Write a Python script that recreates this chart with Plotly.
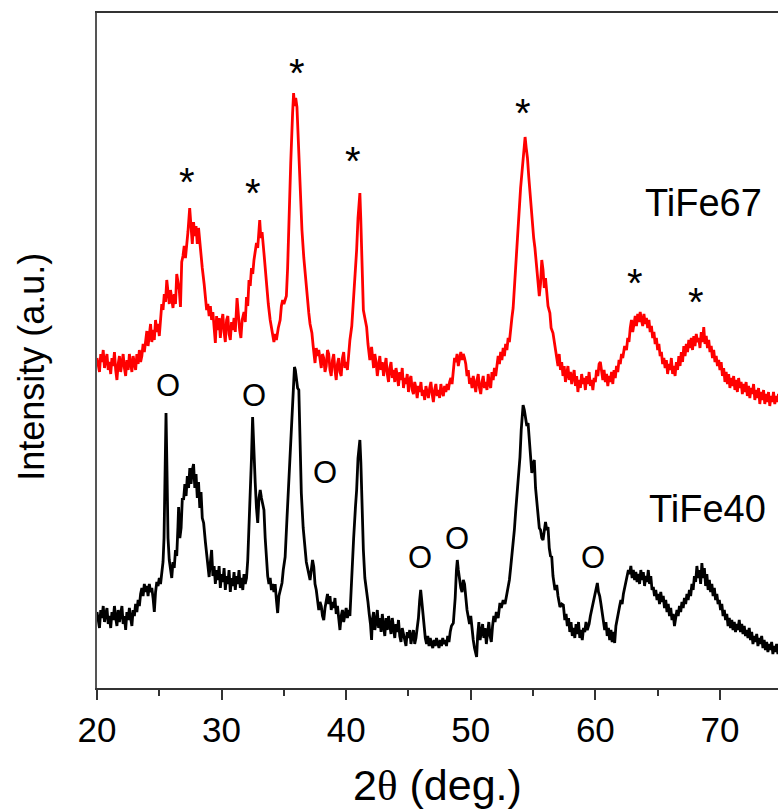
import plotly.graph_objects as go

# ---- TiFe67 (red): (2theta, intensity a.u.) ----
tife67 = [
 (20.0,330),(20.1,322),(20.2,316),(20.3,334),(20.4,326),(20.5,338),(20.6,320),(20.7,328),(20.8,334),(20.9,318),
 (21.0,326),(21.1,314),(21.2,330),(21.3,322),(21.4,336),(21.5,318),(21.6,308),(21.7,324),(21.8,332),(21.9,316),
 (22.0,326),(22.1,334),(22.2,320),(22.3,312),(22.4,328),(22.5,318),(22.6,334),(22.7,322),(22.8,316),(22.9,332),
 (23.0,326),(23.1,318),(23.2,334),(23.3,324),(23.4,338),(23.5,326),(23.6,332),(23.7,344),(23.8,336),(23.9,350),
 (24.0,357),(24.1,342),(24.2,352),(24.3,364),(24.4,346),(24.5,358),(24.6,348),(24.7,368),(24.8,356),(24.9,364),
 (25.0,352),(25.1,372),(25.2,384),(25.3,378),(25.4,394),(25.5,386),(25.6,408),(25.7,396),(25.8,384),(25.9,398),
 (26.0,390),(26.1,380),(26.2,394),(26.3,384),(26.4,414),(26.5,404),(26.6,398),(26.7,381),(26.8,426),(26.9,432),
 (27.0,442),(27.1,430),(27.2,448),(27.3,456),(27.44,480),(27.55,458),(27.65,444),(27.75,466),(27.85,452),(27.95,462),
 (28.05,444),(28.15,460),(28.3,438),(28.45,420),(28.6,404),(28.7,392),(28.8,378),(28.9,384),(29.0,372),(29.1,382),
 (29.2,368),(29.3,376),(29.4,362),(29.5,345),(29.6,372),(29.7,358),(29.8,370),(29.9,350),(30.0,366),(30.1,374),
 (30.2,356),(30.3,346),(30.4,368),(30.5,372),(30.6,354),(30.7,348),(30.8,366),(30.9,358),(31.0,370),(31.1,356),
 (31.24,390),(31.35,372),(31.45,358),(31.55,350),(31.65,368),(31.8,376),(31.9,366),(32.0,391),(32.1,382),(32.2,408),
 (32.3,402),(32.4,420),(32.5,414),(32.6,428),(32.7,436),(32.8,445),(32.9,440),(33.06,468),(33.15,450),(33.25,456),
 (33.4,435),(33.5,420),(33.6,401),(33.75,384),(33.9,368),(34.0,360),(34.1,352),(34.2,346),(34.3,354),(34.4,348),
 (34.55,360),(34.7,368),(34.8,382),(34.9,388),(35.0,384),(35.2,392),(35.3,420),(35.4,475),(35.55,525),(35.7,575),
 (35.78,595),(35.85,582),(35.95,590),(36.05,581),(36.15,548),(36.2,531),(36.3,492),(36.45,458),(36.6,430),(36.7,415),
 (36.85,392),(37.0,375),(37.1,364),(37.25,355),(37.35,342),(37.5,325),(37.6,340),(37.7,332),(37.8,338),(37.9,326),
 (38.0,320),(38.1,334),(38.2,330),(38.3,316),(38.4,322),(38.5,338),(38.6,334),(38.7,318),(38.8,312),(38.9,328),
 (39.0,334),(39.1,318),(39.2,308),(39.3,324),(39.4,330),(39.5,316),(39.6,312),(39.7,330),(39.8,336),(39.9,320),
 (40.0,326),(40.1,318),(40.2,336),(40.3,348),(40.45,362),(40.57,385),(40.7,410),(40.84,438),(40.95,470),(41.05,490),
 (41.1,495),(41.17,470),(41.24,435),(41.38,378),(41.5,370),(41.64,361),(41.75,344),(41.9,328),(42.04,341),(42.1,330),
 (42.2,320),(42.3,334),(42.4,326),(42.5,312),(42.6,324),(42.7,332),(42.8,318),(42.9,326),(43.0,312),(43.1,322),
 (43.2,330),(43.3,314),(43.4,306),(43.5,320),(43.6,326),(43.7,310),(43.8,318),(43.9,306),(44.0,320),(44.1,312),
 (44.2,302),(44.3,316),(44.4,308),(44.5,320),(44.6,300),(44.7,310),(44.8,304),(44.9,314),(45.0,296),(45.1,308),
 (45.2,312),(45.3,298),(45.4,294),(45.5,306),(45.6,300),(45.7,290),(45.8,302),(45.9,296),(46.0,306),(46.1,292),
 (46.2,298),(46.3,288),(46.4,302),(46.5,296),(46.6,290),(46.7,300),(46.8,306),(46.9,294),(47.0,286),(47.1,298),
 (47.2,304),(47.3,292),(47.4,298),(47.5,290),(47.6,304),(47.7,296),(47.8,292),(47.9,302),(48.0,296),(48.1,304),
 (48.2,298),(48.3,306),(48.4,310),(48.5,304),(48.6,318),(48.7,330),(48.8,326),(48.9,334),(49.0,322),(49.1,330),
 (49.2,336),(49.3,328),(49.4,334),(49.5,330),(49.6,324),(49.7,312),(49.8,318),(49.9,304),(50.0,310),(50.1,300),
 (50.2,312),(50.3,304),(50.4,296),(50.5,308),(50.6,314),(50.7,300),(50.8,294),(50.9,306),(51.0,312),(51.1,300),
 (51.2,306),(51.3,298),(51.4,314),(51.5,304),(51.6,300),(51.7,316),(51.8,308),(51.9,320),(52.0,312),(52.1,322),
 (52.2,332),(52.3,324),(52.4,336),(52.5,328),(52.6,340),(52.7,332),(52.8,344),(52.9,338),(53.0,350),(53.1,346),
 (53.2,362),(53.3,370),(53.4,380),(53.5,398),(53.6,420),(53.7,440),(53.8,462),(53.9,480),(54.0,500),(54.1,516),
 (54.2,530),(54.3,545),(54.36,551),(54.45,540),(54.55,530),(54.65,512),(54.75,495),(54.85,480),(54.95,466),(55.05,450),
 (55.15,440),(55.3,421),(55.4,410),(55.5,392),(55.6,404),(55.7,428),(55.8,418),(55.9,400),(56.0,410),(56.1,396),
 (56.2,382),(56.35,375),(56.45,360),(56.6,355),(56.7,346),(56.8,340),(56.9,330),(57.0,322),(57.1,334),(57.2,318),
 (57.3,326),(57.4,312),(57.5,322),(57.6,306),(57.7,314),(57.8,322),(57.9,308),(58.0,316),(58.1,304),(58.2,312),
 (58.3,318),(58.4,302),(58.5,312),(58.6,296),(58.7,308),(58.8,300),(58.9,314),(59.0,304),(59.1,310),(59.2,298),
 (59.3,312),(59.4,304),(59.5,316),(59.6,302),(59.7,308),(59.8,298),(59.9,310),(60.0,306),(60.1,318),(60.2,312),
 (60.3,324),(60.4,326),(60.5,314),(60.6,308),(60.7,318),(60.8,306),(60.9,314),(61.0,302),(61.1,312),(61.2,306),
 (61.3,316),(61.4,304),(61.5,318),(61.6,310),(61.7,322),(61.8,316),(61.9,328),(62.0,324),(62.1,334),(62.2,330),
 (62.35,342),(62.5,338),(62.6,350),(62.7,346),(62.8,360),(62.9,368),(63.0,356),(63.1,366),(63.2,372),(63.3,362),
 (63.4,374),(63.5,366),(63.6,376),(63.7,368),(63.8,362),(63.9,374),(64.0,364),(64.1,370),(64.2,360),(64.3,368),
 (64.4,356),(64.5,362),(64.6,350),(64.7,356),(64.8,344),(64.9,350),(65.0,338),(65.1,344),(65.2,332),(65.3,336),
 (65.4,324),(65.5,330),(65.6,320),(65.7,328),(65.8,314),(65.9,324),(66.0,318),(66.1,330),(66.2,314),(66.3,322),
 (66.4,312),(66.5,326),(66.6,318),(66.7,332),(66.8,322),(66.9,336),(67.0,326),(67.1,342),(67.2,332),(67.3,344),
 (67.4,336),(67.5,348),(67.6,340),(67.7,350),(67.8,338),(67.9,352),(68.0,342),(68.1,354),(68.2,346),(68.3,350),
 (68.4,340),(68.5,356),(68.6,346),(68.7,361),(68.8,344),(68.9,352),(69.0,340),(69.1,348),(69.2,336),(69.3,342),
 (69.4,330),(69.5,338),(69.6,326),(69.7,332),(69.8,322),(69.9,328),(70.0,318),(70.1,326),(70.2,312),(70.3,320),
 (70.4,306),(70.5,316),(70.6,304),(70.7,314),(70.8,300),(70.9,310),(71.0,302),(71.1,312),(71.2,298),(71.3,308),
 (71.4,296),(71.5,310),(71.6,300),(71.7,306),(71.8,294),(71.9,304),(72.0,296),(72.1,306),(72.2,292),(72.3,302),
 (72.4,290),(72.5,300),(72.6,294),(72.7,304),(72.8,288),(72.9,298),(73.0,290),(73.1,300),(73.2,284),(73.3,296),
 (73.4,288),(73.5,298),(73.6,284),(73.7,294),(73.8,286),(73.9,296),(74.0,282),(74.1,292),(74.2,286),(74.3,296),
 (74.4,284),(74.5,292),(74.6,286),(74.7,294),(74.8,284),
]

# ---- TiFe40 (black): (2theta, intensity a.u.) ----
tife40 = [
 (20.0,76),(20.1,68),(20.2,60),(20.3,78),(20.4,70),(20.5,82),(20.6,66),(20.7,74),(20.8,80),(20.9,64),
 (21.0,72),(21.1,60),(21.2,76),(21.3,68),(21.4,82),(21.5,70),(21.6,62),(21.7,78),(21.8,66),(21.9,74),
 (22.0,82),(22.1,64),(22.2,72),(22.3,58),(22.4,76),(22.5,68),(22.6,80),(22.7,70),(22.8,62),(22.9,78),
 (23.0,72),(23.1,84),(23.2,76),(23.3,88),(23.4,82),(23.5,94),(23.6,100),(23.7,92),(23.8,104),(23.9,96),
 (24.0,102),(24.1,92),(24.2,104),(24.3,96),(24.4,100),(24.5,90),(24.6,76),(24.7,96),(24.8,106),(24.9,102),
 (25.0,110),(25.1,104),(25.2,118),(25.3,126),(25.38,150),(25.46,220),(25.54,275),(25.62,215),(25.7,150),(25.8,128),
 (25.9,118),(26.0,110),(26.1,126),(26.2,120),(26.3,138),(26.4,132),(26.5,162),(26.55,181),(26.65,150),(26.75,160),
 (26.85,190),(26.95,188),(27.05,204),(27.15,192),(27.25,212),(27.35,200),(27.45,220),(27.55,204),(27.65,218),(27.75,224),
 (27.85,200),(27.95,214),(28.05,190),(28.15,206),(28.25,180),(28.35,196),(28.45,170),(28.56,165),(28.7,146),(28.8,135),
 (28.9,122),(29.0,111),(29.1,126),(29.2,138),(29.3,112),(29.4,122),(29.5,104),(29.6,118),(29.7,108),(29.8,122),
 (29.9,100),(30.0,114),(30.1,106),(30.2,120),(30.3,98),(30.4,112),(30.5,104),(30.6,118),(30.7,96),(30.8,110),
 (30.9,102),(31.0,116),(31.1,98),(31.2,112),(31.3,104),(31.4,118),(31.5,100),(31.6,110),(31.7,98),(31.8,114),
 (31.9,104),(32.0,110),(32.1,128),(32.17,151),(32.3,188),(32.4,230),(32.49,271),(32.58,232),(32.7,205),(32.8,180),
 (32.9,165),(33.0,190),(33.1,198),(33.2,190),(33.3,184),(33.4,178),(33.5,150),(33.6,125),(33.7,112),(33.8,104),
 (33.9,110),(34.0,98),(34.1,104),(34.2,96),(34.3,104),(34.4,88),(34.5,75),(34.6,92),(34.7,98),(34.85,105),
 (34.95,118),(35.1,131),(35.25,170),(35.4,211),(35.55,245),(35.65,271),(35.75,300),(35.85,321),(35.92,318),(36.0,306),
 (36.1,300),(36.2,298),(36.3,250),(36.4,195),(36.55,160),(36.7,138),(36.8,126),(36.9,120),(37.0,112),(37.1,108),
 (37.2,118),(37.3,128),(37.4,121),(37.5,104),(37.6,98),(37.7,86),(37.8,78),(37.9,86),(38.0,82),(38.1,72),
 (38.2,68),(38.3,80),(38.4,88),(38.5,94),(38.6,84),(38.7,92),(38.8,78),(38.9,86),(39.0,80),(39.1,90),
 (39.2,74),(39.3,82),(39.4,70),(39.5,58),(39.6,72),(39.7,78),(39.8,66),(39.9,74),(40.0,80),(40.1,70),
 (40.2,78),(40.3,72),(40.44,115),(40.6,150),(40.75,182),(40.84,198),(40.95,230),(41.05,244),(41.1,248),(41.18,225),
 (41.28,180),(41.38,138),(41.5,110),(41.64,98),(41.75,86),(41.85,74),(41.95,64),(42.04,48),(42.1,68),(42.2,76),
 (42.3,58),(42.4,66),(42.5,78),(42.6,60),(42.7,70),(42.8,56),(42.9,74),(43.0,62),(43.1,52),(43.2,70),
 (43.3,58),(43.4,72),(43.5,60),(43.6,54),(43.7,70),(43.8,62),(43.9,50),(44.0,64),(44.1,56),(44.2,68),
 (44.3,52),(44.4,46),(44.5,60),(44.6,54),(44.7,48),(44.8,42),(44.9,56),(45.0,50),(45.1,58),(45.2,44),
 (45.3,52),(45.4,58),(45.5,44),(45.6,50),(45.7,60),(45.8,70),(45.9,88),(45.98,98),(46.06,88),(46.15,76),
 (46.25,58),(46.35,50),(46.45,44),(46.55,52),(46.65,42),(46.75,50),(46.85,44),(46.95,40),(47.05,48),(47.15,42),
 (47.25,50),(47.35,44),(47.45,40),(47.55,48),(47.65,42),(47.75,50),(47.85,44),(47.95,48),(48.05,42),(48.15,52),
 (48.25,46),(48.35,56),(48.45,62),(48.6,65),(48.75,90),(48.85,118),(48.92,128),(49.0,118),(49.1,106),(49.2,100),
 (49.3,96),(49.4,108),(49.5,104),(49.6,90),(49.7,78),(49.8,71),(49.9,64),(50.0,72),(50.1,58),(50.2,48),
 (50.3,40),(50.4,36),(50.47,31),(50.55,52),(50.65,66),(50.75,48),(50.85,58),(50.95,64),(51.05,50),(51.15,60),
 (51.25,44),(51.35,58),(51.45,66),(51.55,52),(51.65,46),(51.75,62),(51.85,72),(51.95,66),(52.05,76),(52.2,70),
 (52.34,85),(52.45,80),(52.6,88),(52.75,84),(52.9,95),(53.0,98),(53.1,108),(53.2,120),(53.3,131),(53.4,145),
 (53.5,158),(53.6,176),(53.68,188),(53.8,210),(53.95,231),(54.05,258),(54.15,276),(54.2,283),(54.3,278),(54.4,270),
 (54.5,262),(54.6,265),(54.7,246),(54.8,232),(54.9,215),(55.0,224),(55.1,228),(55.2,200),(55.3,186),(55.4,171),
 (55.5,160),(55.6,158),(55.7,150),(55.8,148),(55.9,156),(56.0,166),(56.1,158),(56.2,161),(56.3,140),(56.4,132),
 (56.5,131),(56.6,112),(56.76,98),(56.9,103),(57.0,92),(57.16,81),(57.3,84),(57.43,83),(57.55,68),(57.65,74),
 (57.75,62),(57.85,70),(57.95,56),(58.05,66),(58.15,52),(58.25,60),(58.35,50),(58.45,64),(58.55,54),(58.65,66),
 (58.75,50),(58.85,58),(58.95,48),(59.05,60),(59.15,56),(59.25,66),(59.35,58),(59.5,64),(59.6,72),(59.7,78),
 (59.8,86),(59.9,92),(60.0,98),(60.16,105),(60.25,96),(60.35,92),(60.45,84),(60.55,76),(60.65,64),(60.75,58),
 (60.85,66),(60.95,52),(61.05,60),(61.15,48),(61.25,58),(61.35,46),(61.45,56),(61.55,45),(61.65,62),(61.75,70),
 (61.85,78),(61.95,82),(62.05,88),(62.15,84),(62.25,94),(62.35,100),(62.45,106),(62.55,112),(62.65,118),(62.75,114),
 (62.85,122),(62.95,110),(63.05,118),(63.15,108),(63.25,116),(63.35,106),(63.45,114),(63.55,104),(63.65,118),(63.75,108),
 (63.85,116),(63.95,102),(64.05,112),(64.15,106),(64.25,118),(64.35,104),(64.45,112),(64.55,98),(64.65,101),(64.75,92),
 (64.85,98),(64.95,88),(65.05,94),(65.15,84),(65.25,96),(65.35,86),(65.45,92),(65.55,80),(65.65,88),(65.75,76),
 (65.85,84),(65.95,72),(66.05,80),(66.15,68),(66.25,74),(66.35,62),(66.45,70),(66.55,78),(66.65,72),(66.75,82),
 (66.85,76),(66.95,86),(67.05,80),(67.15,90),(67.25,84),(67.35,94),(67.45,88),(67.55,98),(67.65,92),(67.75,104),
 (67.85,98),(67.95,112),(68.05,106),(68.15,122),(68.25,110),(68.35,118),(68.45,104),(68.55,125),(68.65,110),(68.75,120),
 (68.85,102),(68.95,114),(69.05,98),(69.15,108),(69.25,96),(69.35,104),(69.45,92),(69.55,100),(69.65,88),(69.75,94),
 (69.85,84),(69.95,88),(70.05,78),(70.15,84),(70.25,72),(70.35,78),(70.45,68),(70.55,74),(70.65,62),(70.75,70),
 (70.85,60),(70.95,68),(71.05,58),(71.15,66),(71.25,56),(71.35,64),(71.45,58),(71.55,68),(71.65,56),(71.75,64),
 (71.85,54),(71.95,62),(72.05,52),(72.15,58),(72.25,50),(72.35,60),(72.45,48),(72.55,56),(72.65,44),(72.75,52),
 (72.85,46),(72.95,54),(73.05,42),(73.15,50),(73.25,44),(73.35,52),(73.45,40),(73.55,48),(73.65,38),(73.75,46),
 (73.85,36),(73.95,44),(74.05,38),(74.15,46),(74.25,34),(74.35,42),(74.45,36),(74.55,44),(74.65,34),(74.75,40),
 (74.85,36),
]

# ---- peak markers ----
star_2theta = [27.22, 32.52, 36.05, 40.55, 54.19, 63.18, 68.07]
star_int = [506, 495, 615, 527, 575, 405, 386]
o_2theta = [25.7, 32.6, 38.3, 45.92, 48.89, 59.8]
o_int = [303, 293, 216, 131, 150, 131]

sample_labels = ["TiFe67", "TiFe40"]
label_2theta = [68.64, 69.04]
label_int = [485, 179]

x_ticks = [20, 30, 40, 50, 60, 70]
x_minor_ticks = [25, 35, 45, 55, 65]

TXT_FONT = "Liberation Sans, Arial, sans-serif"

x67 = [p[0] for p in tife67]
y67 = [p[1] for p in tife67]
x40 = [p[0] for p in tife40]
y40 = [p[1] for p in tife40]

fig = go.Figure()
fig.add_trace(go.Scatter(x=x67, y=y67, mode="lines",
                         line=dict(color="#ff0000", width=2.8), name="TiFe67"))
fig.add_trace(go.Scatter(x=x40, y=y40, mode="lines",
                         line=dict(color="#000000", width=2.8), name="TiFe40"))

ann = []
for x, y in zip(star_2theta, star_int):
    ann.append(dict(x=x, y=y, xref="x", yref="y", text="*", showarrow=False,
                    font=dict(family=TXT_FONT, size=40, color="black"),
                    xanchor="center", yanchor="middle"))
for x, y in zip(o_2theta, o_int):
    ann.append(dict(x=x, y=y, xref="x", yref="y", text="O", showarrow=False,
                    font=dict(family=TXT_FONT, size=31, color="black"),
                    xanchor="center", yanchor="middle"))
for t, x, y in zip(sample_labels, label_2theta, label_int):
    ann.append(dict(x=x, y=y, xref="x", yref="y", text=t, showarrow=False,
                    font=dict(family=TXT_FONT, size=38, color="black"),
                    xanchor="center", yanchor="middle"))

ann.append(dict(x=0.5, y=-0.1437, xref="paper", yref="paper",
                text="2<span style='font-family:Liberation Serif, Times New Roman, serif'>θ</span> (deg.)",
                showarrow=False, font=dict(family=TXT_FONT, size=43, color="black"),
                xanchor="center", yanchor="middle"))
ann.append(dict(x=-0.0954, y=0.476, xref="paper", yref="paper",
                text="Intensity (a.u.)", textangle=-90,
                showarrow=False, font=dict(family=TXT_FONT, size=36, color="black"),
                xanchor="center", yanchor="middle"))

fig.update_layout(
    width=778, height=810,
    margin=dict(l=97, r=0, t=13, b=122),
    plot_bgcolor="white", paper_bgcolor="white",
    showlegend=False,
    annotations=ann,
    xaxis=dict(range=[20, 74.66], tickmode="array", tickvals=x_ticks,
               ticktext=[str(v) for v in x_ticks],
               ticks="outside", ticklen=10, tickwidth=2, tickcolor="#333",
               minor=dict(tickmode="array", tickvals=x_minor_ticks,
                          ticks="outside", ticklen=6, tickwidth=2, tickcolor="#333"),
               showline=True, linecolor="#333", linewidth=2, mirror=True,
               showgrid=False, zeroline=False,
               tickfont=dict(family=TXT_FONT, size=35, color="black")),
    yaxis=dict(range=[0, 675], showticklabels=False, ticks="",
               showline=True, linecolor="#555", linewidth=1.5, mirror=False,
               showgrid=False, zeroline=False),
)

fig.write_html("out.html", config={"displayModeBar": False},
               post_script="document.body.style.margin='0';")
